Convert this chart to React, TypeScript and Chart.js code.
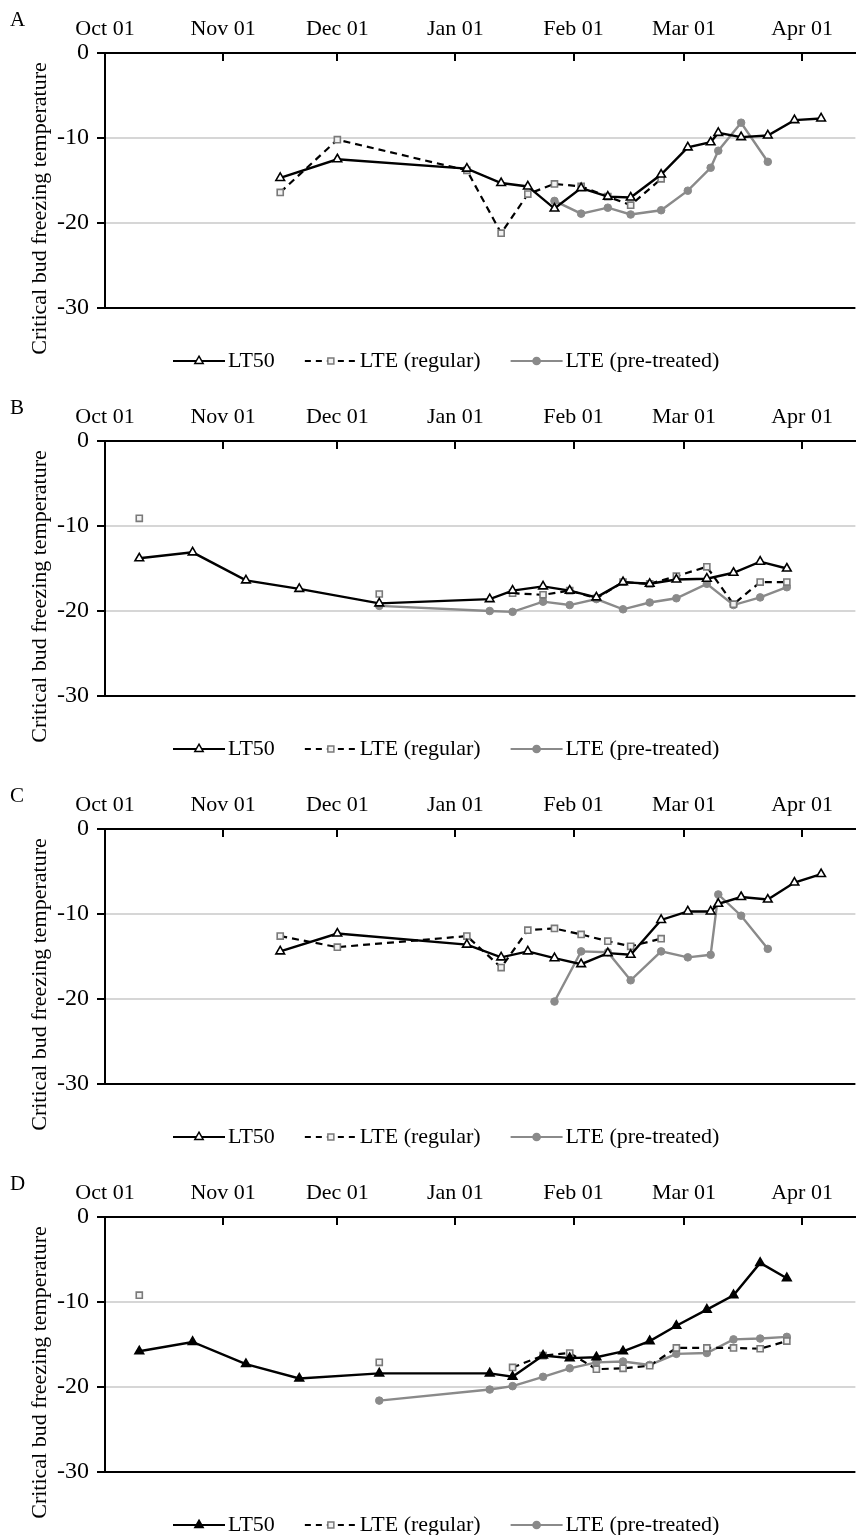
import React, { useEffect, useRef } from "react";
import { Chart, registerables } from "chart.js";

Chart.register(...registerables);

const FONT = "'Liberation Serif', 'Times New Roman', Times, serif";

// x axis: days since Oct 01 (season with a leap-year February)
const MONTH_DAYS = [0, 31, 61, 92, 123, 152, 183];
const MONTH_LABELS = ["Oct 01", "Nov 01", "Dec 01", "Jan 01", "Feb 01", "Mar 01", "Apr 01"];
const X_MAX = 197;
const Y_TICKS = [0, -10, -20, -30];
const Y_TITLE = "Critical bud freezing temperature";
const SERIES_NAMES = ["LT50", "LTE (regular)", "LTE (pre-treated)"];

// sampling dates (days since Oct 01)
const DAYS_AC = [46, 61, 95, 104, 111, 118, 125, 132, 138, 146, 153, 159, 161, 167, 174, 181, 188];
const DAYS_BD = [9, 23, 37, 51, 72, 101, 107, 115, 122, 129, 136, 143, 150, 158, 165, 172, 179];

// Panel A
const A_LT50 = [-14.7, -12.5, -13.6, -15.3, -15.7, -18.3, -15.9, -16.9, -17.0, -14.3, -11.1, -10.5, -9.4, -9.9, -9.7, -7.9, -7.7];
const A_REG = [-16.4, -10.2, -13.8, -21.2, -16.6, -15.4, -15.7, -16.9, -17.9, -14.8, null, null, null, null, null, null, null];
const A_PRE = [null, null, null, null, null, -17.4, -18.9, -18.2, -19.0, -18.5, -16.2, -13.5, -11.5, -8.2, -12.8, null, null];

// Panel B
const B_LT50 = [-13.8, -13.1, -16.4, -17.4, -19.1, -18.6, -17.6, -17.1, -17.6, -18.4, -16.6, -16.8, -16.3, -16.2, -15.5, -14.2, -15.0];
const B_REG = [-9.1, null, null, null, -18.0, null, -17.9, -18.1, -17.6, -18.5, -16.6, -16.8, -15.9, -14.8, -19.2, -16.6, -16.6];
const B_PRE = [null, null, null, null, -19.4, -20.0, -20.1, -18.9, -19.3, -18.6, -19.8, -19.0, -18.5, -16.8, -19.3, -18.4, -17.2];

// Panel C
const C_LT50 = [-14.4, -12.3, -13.6, -15.1, -14.4, -15.2, -15.9, -14.6, -14.8, -10.7, -9.7, -9.7, -8.8, -8.0, -8.3, -6.3, -5.3];
const C_REG = [-12.6, -13.9, -12.6, -16.3, -11.9, -11.7, -12.4, -13.2, -13.8, -12.9, null, null, null, null, null, null, null];
const C_PRE = [null, null, null, null, null, -20.3, -14.4, -14.5, -17.8, -14.4, -15.1, -14.8, -7.7, -10.2, -14.1, null, null];

// Panel D
const D_LT50 = [-15.8, -14.7, -17.3, -19.0, -18.4, -18.4, -18.8, -16.3, -16.6, -16.5, -15.8, -14.6, -12.8, -10.9, -9.2, -5.4, -7.2];
const D_REG = [-9.2, null, null, null, -17.1, null, -17.7, -16.3, -16.0, -17.9, -17.8, -17.5, -15.4, -15.4, -15.4, -15.5, -14.6];
const D_PRE = [null, null, null, null, -21.6, -20.3, -19.9, -18.8, -17.8, -17.1, -17.0, -17.4, -16.1, -16.0, -14.4, -14.3, -14.1];

const GRAY = "#8a8a8a";

type PanelProps = {
  letter: string;
  days: number[];
  lt50: (number | null)[];
  regular: (number | null)[];
  pre: (number | null)[];
  filledTriangle?: boolean;
};

function drawMarker(ctx: CanvasRenderingContext2D, kind: string, x: number, y: number, fill: string, stroke: string) {
  ctx.save();
  ctx.setLineDash([]);
  ctx.fillStyle = fill;
  ctx.strokeStyle = stroke;
  ctx.lineWidth = 1.5;
  ctx.beginPath();
  if (kind === "triangle") {
    const r = 4.8;
    ctx.moveTo(x, y - r);
    ctx.lineTo(x + r * 0.866, y + r * 0.5);
    ctx.lineTo(x - r * 0.866, y + r * 0.5);
    ctx.closePath();
  } else if (kind === "rect") {
    ctx.rect(x - 3, y - 3, 6, 6);
  } else {
    ctx.arc(x, y, 3.6, 0, Math.PI * 2);
  }
  ctx.fill();
  ctx.stroke();
  ctx.restore();
}

function Panel({ letter, days, lt50, regular, pre, filledTriangle }: PanelProps) {
  const ref = useRef<HTMLCanvasElement | null>(null);

  useEffect(() => {
    if (!ref.current) return;
    const toPts = (vals: (number | null)[]) => days.map((d, i) => ({ x: d, y: vals[i] }));
    const triFill = filledTriangle ? "#000" : "#fff";

    const decor = {
      id: "decor",
      afterDraw(chart: any) {
        const { ctx, chartArea } = chart;
        const xs = chart.scales.x;
        ctx.save();
        // inward month ticks on the top axis
        ctx.strokeStyle = "#000";
        ctx.lineWidth = 2;
        MONTH_DAYS.forEach((d, i) => {
          if (i === 0) return;
          const px = Math.round(xs.getPixelForValue(d));
          ctx.beginPath();
          ctx.moveTo(px, chartArea.top);
          ctx.lineTo(px, chartArea.top + 8);
          ctx.stroke();
        });
        // panel letter
        ctx.fillStyle = "#000";
        ctx.font = `21px ${FONT}`;
        ctx.textAlign = "left";
        ctx.textBaseline = "middle";
        ctx.fillText(letter, 10, 20);
        // y title
        ctx.save();
        ctx.translate(40, (chartArea.top + chartArea.bottom) / 2 + 28);
        ctx.rotate(-Math.PI / 2);
        ctx.font = `22px ${FONT}`;
        ctx.textAlign = "center";
        ctx.textBaseline = "middle";
        ctx.fillText(Y_TITLE, 0, 0);
        ctx.restore();
        // legend
        const ly = chartArea.bottom + 53;
        const items = [
          { label: SERIES_NAMES[0], color: "#000", dash: [] as number[], kind: "triangle", fill: triFill, stroke: "#000" },
          { label: SERIES_NAMES[1], color: "#000", dash: [6, 5], kind: "rect", fill: "#f2f2f2", stroke: "#7a7a7a" },
          { label: SERIES_NAMES[2], color: GRAY, dash: [] as number[], kind: "circle", fill: GRAY, stroke: GRAY },
        ];
        let x = 173;
        ctx.font = `22px ${FONT}`;
        items.forEach((it) => {
          ctx.save();
          ctx.strokeStyle = it.color;
          ctx.lineWidth = 2.2;
          ctx.setLineDash(it.dash);
          ctx.beginPath();
          ctx.moveTo(x, ly);
          ctx.lineTo(x + 52, ly);
          ctx.stroke();
          ctx.restore();
          drawMarker(ctx, it.kind, x + 26, ly, it.fill, it.stroke);
          ctx.fillStyle = "#000";
          ctx.textAlign = "left";
          ctx.textBaseline = "middle";
          ctx.fillText(it.label, x + 55, ly);
          x += 55 + ctx.measureText(it.label).width + 30;
        });
        ctx.restore();
      },
    };

    const chart = new Chart(ref.current, {
      type: "line",
      data: {
        datasets: [
          {
            label: SERIES_NAMES[0],
            data: toPts(lt50),
            borderColor: "#000",
            borderWidth: 2.4,
            pointStyle: "triangle",
            pointRadius: 5,
            pointBackgroundColor: triFill,
            pointBorderColor: "#000",
            pointBorderWidth: 1.6,
            spanGaps: false,
          },
          {
            label: SERIES_NAMES[1],
            data: toPts(regular),
            borderColor: "#000",
            borderWidth: 2.2,
            borderDash: [7, 5],
            pointStyle: "rect",
            pointRadius: 4.3,
            pointBackgroundColor: "#f2f2f2",
            pointBorderColor: "#7a7a7a",
            pointBorderWidth: 1.6,
            spanGaps: false,
          },
          {
            label: SERIES_NAMES[2],
            data: toPts(pre),
            borderColor: GRAY,
            borderWidth: 2.4,
            pointStyle: "circle",
            pointRadius: 3.8,
            pointBackgroundColor: GRAY,
            pointBorderColor: GRAY,
            pointBorderWidth: 1,
            spanGaps: false,
          },
        ],
      } as any,
      options: {
        animation: false,
        responsive: true,
        maintainAspectRatio: false,
        layout: { padding: { top: 0, right: 0, bottom: 80, left: 0 } },
        elements: { line: { tension: 0 } },
        plugins: { legend: { display: false }, tooltip: { enabled: false } },
        scales: {
          x: {
            type: "linear",
            position: "top",
            min: 0,
            max: X_MAX,
            afterBuildTicks: (s: any) => {
              s.ticks = MONTH_DAYS.map((v) => ({ value: v }));
            },
            afterFit: (s: any) => {
              s.height = 53;
            },
            ticks: {
              callback: (_v: any, i: number) => MONTH_LABELS[i] ?? "",
              font: { family: FONT, size: 22 },
              color: "#000",
              padding: 11,
              maxRotation: 0,
              autoSkip: false,
            },
            grid: { display: true, drawOnChartArea: false, drawTicks: false },
            border: { display: true, color: "#000", width: 2 },
          },
          y: {
            type: "linear",
            min: -30,
            max: 0,
            afterBuildTicks: (s: any) => {
              s.ticks = Y_TICKS.map((v) => ({ value: v }));
            },
            afterFit: (s: any) => {
              s.width = 105;
            },
            ticks: {
              callback: (v: any) => String(v),
              font: { family: FONT, size: 24 },
              color: "#000",
              padding: 8,
            },
            grid: {
              color: (c: any) => (c.tick && (c.tick.value === -10 || c.tick.value === -20) ? "#d6d6d6" : "#000"),
              lineWidth: 2,
              tickColor: "#000",
              tickLength: 8,
              tickWidth: 2,
            },
            border: { display: true, color: "#000", width: 2 },
          },
        },
      } as any,
      plugins: [decor],
    });
    return () => chart.destroy();
  }, [letter, days, lt50, regular, pre, filledTriangle]);

  return (
    <div style={{ position: "relative", width: 862, height: 388 }}>
      <canvas ref={ref} style={{ display: "block" }} />
    </div>
  );
}

export default function App() {
  return (
    <div
      style={{
        position: "absolute",
        left: 0,
        top: 0,
        width: 862,
        height: 1535,
        overflow: "hidden",
        background: "#fff",
      }}
    >
      <Panel letter="A" days={DAYS_AC} lt50={A_LT50} regular={A_REG} pre={A_PRE} />
      <Panel letter="B" days={DAYS_BD} lt50={B_LT50} regular={B_REG} pre={B_PRE} />
      <Panel letter="C" days={DAYS_AC} lt50={C_LT50} regular={C_REG} pre={C_PRE} />
      <Panel letter="D" days={DAYS_BD} lt50={D_LT50} regular={D_REG} pre={D_PRE} filledTriangle />
    </div>
  );
}
